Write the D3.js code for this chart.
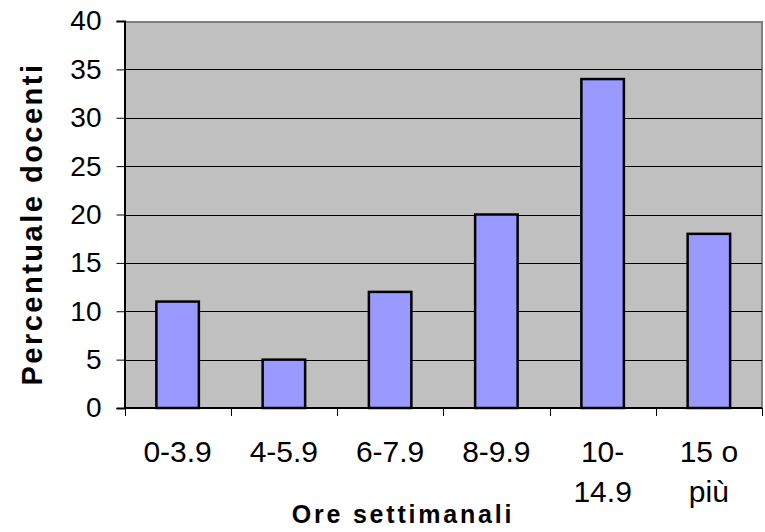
<!DOCTYPE html>
<html>
<head>
<meta charset="utf-8">
<script src="https://cdn.jsdelivr.net/npm/d3@7"></script>
<style>
  html, body { margin: 0; padding: 0; background: #fff; }
  svg { display: block; }
  text { font-family: "Liberation Sans", Arial, sans-serif; fill: #000; }
</style>
</head>
<body>
<svg id="chart" width="765" height="532"></svg>
<script>
// Weekly hours bands and share of teachers (%)
const categories = ["0-3.9", "4-5.9", "6-7.9", "8-9.9", "10-\n14.9", "15 o\npiù"];
const values = [11, 5, 12, 20, 34, 18];
const yTicks = [0, 5, 10, 15, 20, 25, 30, 35, 40];
const xTitle = "Ore settimanali";
const yTitle = "Percentuale docenti";

const svg = d3.select("#chart");
const plotL = 124.5, plotR = 762, plotT = 21, plotB = 408;

const x = d3.scaleBand().domain(categories).range([plotL, plotR]).paddingInner(0.6).paddingOuter(0.3);
const xOuter = d3.scaleBand().domain(categories).range([plotL, plotR]);
const y = d3.scaleLinear().domain([0, 40]).range([plotB, plotT]);

// plot background
svg.append("rect")
  .attr("x", plotL).attr("y", plotT)
  .attr("width", plotR - plotL).attr("height", plotB - plotT)
  .attr("fill", "#c0c0c0");

// frame on top and right
svg.append("path")
  .attr("d", `M${plotL},${plotT + 1} H${plotR} V${plotB}`)
  .attr("fill", "none").attr("stroke", "#808080").attr("stroke-width", 2);

// horizontal gridlines
svg.append("g").selectAll("line")
  .data(yTicks.filter(d => d > 0 && d < 40))
  .join("line")
  .attr("x1", plotL).attr("x2", plotR)
  .attr("y1", d => Math.round(y(d)) + 0.5).attr("y2", d => Math.round(y(d)) + 0.5)
  .attr("stroke", "#000").attr("stroke-width", 1);

// bars
svg.append("g").selectAll("rect")
  .data(values)
  .join("rect")
  .attr("x", (d, i) => x(categories[i]))
  .attr("y", d => y(d))
  .attr("width", x.bandwidth())
  .attr("height", d => plotB - y(d))
  .attr("fill", "#9999ff")
  .attr("stroke", "#000").attr("stroke-width", 2.5);

// y axis
const yAxis = svg.append("g")
  .attr("transform", `translate(${plotL},0)`)
  .call(d3.axisLeft(y).tickValues(yTicks).tickSize(8).tickPadding(15));
yAxis.select(".domain").attr("stroke", "#000").attr("stroke-width", 2);
yAxis.selectAll(".tick line").attr("stroke", "#000");
yAxis.selectAll(".tick text")
  .attr("font-size", "28px")
  .attr("font-family", "Liberation Sans, Arial, sans-serif");

// x axis baseline and category dividers
svg.append("line")
  .attr("x1", plotL).attr("x2", plotR)
  .attr("y1", plotB).attr("y2", plotB)
  .attr("stroke", "#000").attr("stroke-width", 2);
const dividers = categories.map(c => xOuter(c)).concat([plotR]);
svg.append("g").selectAll("line")
  .data(dividers)
  .join("line")
  .attr("x1", d => Math.round(d) + 0.5).attr("x2", d => Math.round(d) + 0.5)
  .attr("y1", plotB).attr("y2", plotB + 8)
  .attr("stroke", "#000").attr("stroke-width", 1);

// category labels, wrapped onto two lines where needed
const labels = svg.append("g").selectAll("text")
  .data(categories)
  .join("text")
  .attr("x", d => xOuter(d) + xOuter.bandwidth() / 2)
  .attr("y", 462)
  .attr("text-anchor", "middle")
  .attr("font-size", "30px");
labels.each(function(d) {
  const t = d3.select(this);
  d.split("\n").forEach((line, k) => {
    t.append("tspan")
      .attr("x", t.attr("x"))
      .attr("dy", k === 0 ? 0 : 40)
      .text(line);
  });
});

// axis titles
svg.append("text")
  .attr("x", 403).attr("y", 523)
  .attr("text-anchor", "middle")
  .attr("font-size", "25px").attr("font-weight", "bold")
  .attr("letter-spacing", "2.8px")
  .text(xTitle);

svg.append("text")
  .attr("transform", "translate(42,224) rotate(-90)")
  .attr("text-anchor", "middle")
  .attr("font-size", "29px").attr("font-weight", "bold")
  .attr("letter-spacing", "2.5px")
  .text(yTitle);
</script>
</body>
</html>
